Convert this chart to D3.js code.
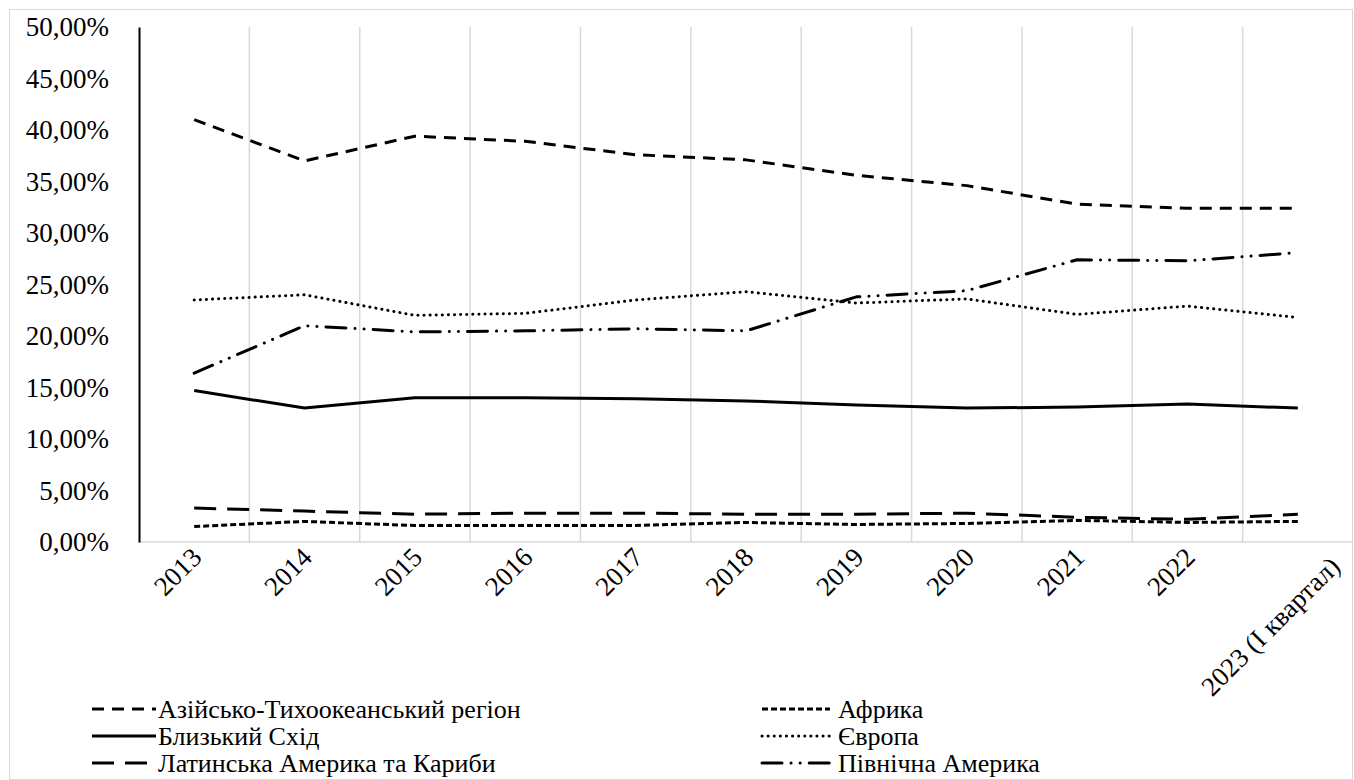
<!DOCTYPE html>
<html>
<head>
<meta charset="utf-8">
<script src="https://d3js.org/d3.v7.min.js"></script>
<style>
  body { margin: 0; background: #fff; }
  svg text { font-family: "Liberation Serif", "Times New Roman", Times, "DejaVu Serif", serif; fill: #000; }
</style>
</head>
<body>
<div class="svg"></div>
<script>
var width = 1354;
var height = 780;

var years = ["2013", "2014", "2015", "2016", "2017", "2018", "2019", "2020", "2021", "2022", "2023 (I квартал)"];
var yTicks = [0, 5, 10, 15, 20, 25, 30, 35, 40, 45, 50];

var asiaPacific = [41.0, 37.0, 39.4, 38.9, 37.6, 37.1, 35.6, 34.6, 32.8, 32.4, 32.4];
var africa      = [1.5, 2.0, 1.6, 1.6, 1.6, 1.9, 1.7, 1.8, 2.1, 1.9, 2.0];
var middleEast  = [14.7, 13.0, 14.0, 14.0, 13.9, 13.7, 13.3, 13.0, 13.1, 13.4, 13.0];
var europe      = [23.5, 24.0, 22.0, 22.2, 23.5, 24.3, 23.2, 23.6, 22.1, 22.9, 21.8];
var latinAm     = [3.3, 3.0, 2.7, 2.8, 2.8, 2.7, 2.7, 2.8, 2.4, 2.2, 2.7];
var northAm     = [16.4, 21.0, 20.4, 20.5, 20.7, 20.5, 23.8, 24.4, 27.4, 27.3, 28.1];

var series = [
  {name: "Азійсько-Тихоокеанський регіон", values: asiaPacific, dash: "12 8", cap: "butt"},
  {name: "Африка", values: africa, dash: "6 3", cap: "butt"},
  {name: "Близький Схід", values: middleEast, dash: null, cap: "butt"},
  {name: "Європа", values: europe, dash: "0.1 6", cap: "round"},
  {name: "Латинська Америка та Кариби", values: latinAm, dash: "22 11", cap: "butt"},
  {name: "Північна Америка", values: northAm, dash: "20 9 0.1 9 0.1 9", cap: "round"}
];

var serif = '"Liberation Serif", "Times New Roman", Times, "DejaVu Serif", serif';
var margin = {top: 27, right: 1, bottom: 238, left: 139};

var svg = d3.select("div.svg")
  .append("svg")
  .attr("width", width)
  .attr("height", height);

svg.append("rect")
  .attr("x", 9.5).attr("y", 9.5)
  .attr("width", 1343).attr("height", 770)
  .attr("fill", "#fff")
  .attr("stroke", "#d9d9d9");

var x = d3.scaleBand()
  .domain(years)
  .range([margin.left, width - margin.right]);

var y = d3.scaleLinear()
  .domain([0, 50])
  .range([height - margin.bottom, margin.top]);

// vertical gridlines at category boundaries
svg.append("g")
  .selectAll("line")
  .data(years.slice(1))
  .join("line")
  .attr("x1", d => x(d)).attr("x2", d => x(d))
  .attr("y1", y(50)).attr("y2", y(0))
  .attr("stroke", "#d9d9d9")
  .attr("stroke-width", 1.5);

svg.append("line")
  .attr("x1", x.range()[0]).attr("x2", x.range()[1])
  .attr("y1", y(0)).attr("y2", y(0))
  .attr("stroke", "#d9d9d9")
  .attr("stroke-width", 1.5);

var yAxis = d3.axisLeft(y)
  .tickValues(yTicks)
  .tickSize(0)
  .tickPadding(30)
  .tickFormat(d => d3.format(".2f")(d).replace(".", ",") + "%");

var gy = svg.append("g")
  .attr("transform", `translate(${margin.left},0)`)
  .call(yAxis)
  .attr("font-family", serif)
  .attr("font-size", 27);
gy.select(".domain").attr("stroke", "#000").attr("stroke-width", 2);
gy.selectAll("text").attr("dy", "0.32em");

var xAxis = d3.axisBottom(x).tickSize(0);
var gx = svg.append("g")
  .attr("transform", `translate(0,${y(0)})`)
  .call(xAxis)
  .attr("font-family", serif)
  .attr("font-size", 27);
gx.select(".domain").remove();
gx.selectAll("text")
  .attr("text-anchor", "end")
  .attr("dy", 0)
  .attr("y", 0)
  .attr("transform", function() {
    var w = this.getComputedTextLength();
    var ox = 9 + (w - 54) * 0.27;
    var oy = 17 + (w - 54) * 0.07;
    return `translate(${ox},${oy}) rotate(-45)`;
  });

var line = d3.line()
  .x((d, i) => x(years[i]) + x.bandwidth() / 2)
  .y(d => y(d));

svg.append("g")
  .selectAll("path")
  .data(series)
  .join("path")
  .attr("fill", "none")
  .attr("stroke", "#000")
  .attr("stroke-width", 3)
  .attr("stroke-linejoin", "round")
  .attr("stroke-linecap", d => d.cap)
  .attr("stroke-dasharray", d => d.dash)
  .attr("d", d => line(d.values));

// legend, two columns, three rows
var legendCols = [92, 762];
var legendRows = [709, 736, 763];
var lg = svg.append("g")
  .attr("font-family", serif)
  .attr("font-size", 26)
  .selectAll("g")
  .data(series)
  .join("g")
  .attr("transform", (d, i) => `translate(${legendCols[i % 2]},${legendRows[Math.floor(i / 2)]})`);

lg.append("line")
  .attr("x1", 0).attr("x2", (d, i) => i % 2 ? 68 : 64)
  .attr("y1", 0).attr("y2", 0)
  .attr("stroke", "#000")
  .attr("stroke-width", 3)
  .attr("stroke-linecap", d => d.cap)
  .attr("stroke-dasharray", d => d.dash);

lg.append("text")
  .attr("x", (d, i) => i % 2 ? 76 : 66)
  .attr("y", 0)
  .attr("dy", "0.35em")
  .text(d => d.name);
</script>
</body>
</html>
